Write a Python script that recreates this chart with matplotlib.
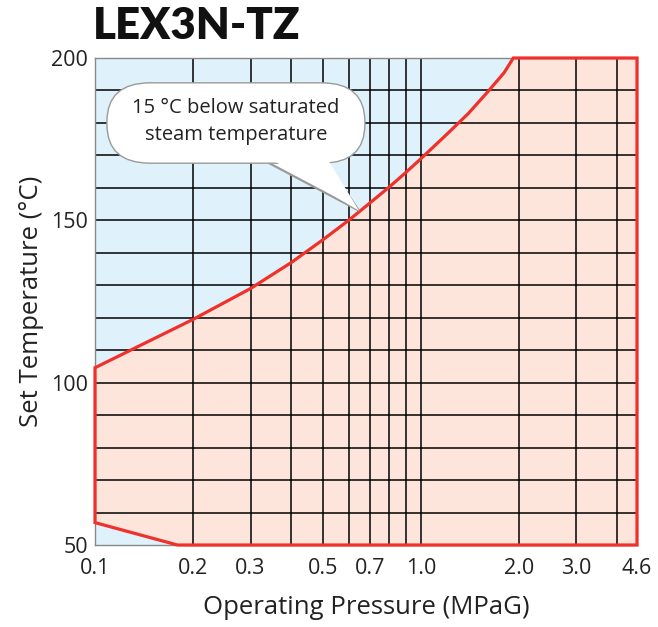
import matplotlib
matplotlib.use("Agg")
import matplotlib.pyplot as plt
from matplotlib.patches import Polygon, FancyBboxPatch
from matplotlib.ticker import FixedLocator, NullLocator, NullFormatter

# limit curve: 15 degC below saturated steam temperature
curve_p = [0.1, 0.2, 0.3, 0.4, 0.5, 0.6, 0.7, 0.8, 0.9, 1.0, 1.2, 1.4, 1.6, 1.8, 1.92]
curve_t = [104.6, 119.5, 129.0, 137.0, 144.0, 150.0, 155.5, 160.3, 164.8, 169.0, 176.5, 183.0, 189.5, 195.5, 200.0]

# lower-left cut corner of the operating range
corner_p = [0.1, 0.179]
corner_t = [56.9, 50.0]

p_min, p_max = 0.1, 4.6
t_min, t_max = 50, 200

xtick_vals = [0.1, 0.2, 0.3, 0.5, 0.7, 1.0, 2.0, 3.0, 4.6]
xtick_labels = ["0.1", "0.2", "0.3", "0.5", "0.7", "1.0", "2.0", "3.0", "4.6"]
ytick_vals = [50, 100, 150, 200]
grid_x = [0.2, 0.3, 0.4, 0.5, 0.6, 0.7, 0.8, 0.9, 1.0, 2.0, 3.0, 4.0]
grid_y = [60, 70, 80, 90, 100, 110, 120, 130, 140, 150, 160, 170, 180, 190]

title = "LEX3N-TZ"
callout = "15 \u00b0C below saturated\nsteam temperature"
callout_at = (0.645, 153.0)

BLUE = "#dff2fb"
PINK = "#fde5dc"
RED = "#f0302a"
TXT = "#222222"
BUBBLE_EC = "#9a9a9a"

plt.rcParams['font.family'] = ['Open Sans', 'DejaVu Sans']

fig = plt.figure(figsize=(6.58, 6.27), dpi=100)
ax = fig.add_axes([95/658, 1 - 545/627, 542/658, 487/627])
ax.set_xscale("log")
ax.set_xlim(p_min, p_max)
ax.set_ylim(t_min, t_max)
ax.set_facecolor(BLUE)

# operating region (pink) bounded by red line
verts = list(zip(corner_p, corner_t))
verts += [(p_max, t_min), (p_max, t_max)]
verts += list(zip(curve_p[::-1], curve_t[::-1]))
region = Polygon(verts, closed=True, facecolor=PINK, edgecolor="none", zorder=1)
ax.add_patch(region)
outline = Polygon(verts, closed=True, facecolor="none", edgecolor=RED,
                  lw=2.3, joinstyle="miter", zorder=5, clip_on=False)
ax.add_patch(outline)

for gx in grid_x:
    ax.axvline(gx, color="black", lw=1.1, zorder=2)
for gy in grid_y:
    ax.axhline(gy, color="black", lw=1.1, zorder=2)

for s in ax.spines.values():
    s.set_color("#888888")
    s.set_linewidth(1.0)

ax.xaxis.set_major_locator(FixedLocator(xtick_vals))
ax.set_xticklabels(xtick_labels)
ax.xaxis.set_minor_locator(NullLocator())
ax.xaxis.set_minor_formatter(NullFormatter())
ax.set_yticks(ytick_vals)
ax.tick_params(length=0, labelsize=15.5, labelcolor=TXT)
ax.tick_params(axis="x", pad=9)
ax.tick_params(axis="y", pad=5)

ax.set_xlabel("Operating Pressure (MPaG)", fontsize=18.5, color=TXT, labelpad=12)
ax.set_ylabel("Set Temperature (\u00b0C)", fontsize=18.5, color=TXT, labelpad=5)

fig.text(93/658, 1 - 26/627, title, fontsize=31.5, fontweight="heavy",
         family=["Lato", "DejaVu Sans"], color="#111111", va="center", ha="left")

# speech bubble (axes fraction coords)
bx0, by0, bx1, by1 = 0.022, 0.784, 0.498, 0.949
tip = ax.transAxes.inverted().transform(ax.transData.transform(callout_at))
tail = [(0.301, 0.796), (0.424, 0.790), tuple(tip)]
tail_fill = [(0.301, 0.808), (0.424, 0.802), tuple(tip)]
ax.add_patch(Polygon(tail, closed=True, transform=ax.transAxes, fc="white",
                     ec=BUBBLE_EC, lw=1.6, zorder=6))
ax.add_patch(FancyBboxPatch((bx0, by0), bx1 - bx0, by1 - by0, transform=ax.transAxes,
                            boxstyle="round,pad=0,rounding_size=0.08", mutation_aspect=1.0,
                            fc="white", ec=BUBBLE_EC, lw=1.0, zorder=7))
ax.add_patch(Polygon(tail_fill, closed=True, transform=ax.transAxes, fc="white",
                     ec="none", zorder=8))
ax.text((bx0 + bx1) / 2, (by0 + by1) / 2 + 0.003, callout, transform=ax.transAxes,
        ha="center", va="center", fontsize=14.5, color=TXT, linespacing=1.5, zorder=9)

fig.savefig("out.png", dpi=100)
